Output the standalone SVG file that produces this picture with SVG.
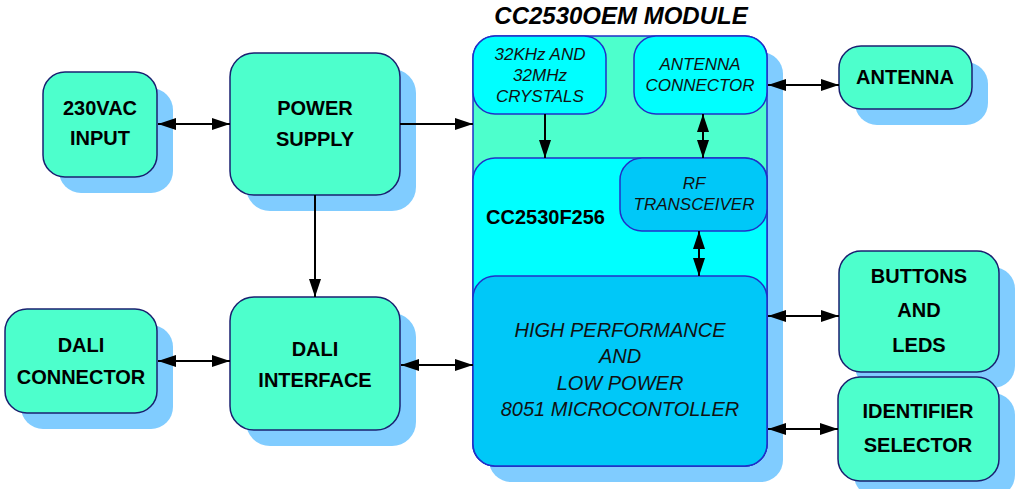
<svg xmlns="http://www.w3.org/2000/svg" width="1024" height="489" viewBox="0 0 1024 489">
<defs>
<style>
.sh{fill:#80ccff}
.gb{fill:#4dffcc;stroke:#1a2070;stroke-width:1.5}
.mod{fill:#4dffcc;stroke:#2030c8;stroke-width:1.5}
.cy{fill:#00ffff;stroke:#2030c8;stroke-width:1.5}
.bl{fill:#00c8f8;stroke:#2030c8;stroke-width:1.5}
.tb{font-family:"Liberation Sans",Arial,sans-serif;font-weight:bold;font-size:20px;fill:#000;text-anchor:middle}
.ti{font-family:"Liberation Sans",Arial,sans-serif;font-style:italic;font-size:17px;fill:#111;text-anchor:middle}
.tm{font-family:"Liberation Sans",Arial,sans-serif;font-style:italic;font-size:20px;fill:#111;text-anchor:middle}
.ttl{font-family:"Liberation Sans",Arial,sans-serif;font-style:italic;font-weight:bold;font-size:24px;fill:#000;text-anchor:middle}
.c{stroke:#000;stroke-width:2;fill:none}
</style>
<marker id="ah" viewBox="0 0 18 12" refX="18" refY="6" markerWidth="18" markerHeight="12" markerUnits="userSpaceOnUse" orient="auto-start-reverse"><path d="M0,0 L18,6 L0,12 z" fill="#000"/></marker>
</defs>
<rect width="1024" height="489" fill="#fff"/>

<text class="ttl" x="621" y="24">CC2530OEM MODULE</text>

<g id="module">
<rect class="sh" x="489" y="52" width="294" height="430" rx="22"/>
<rect class="mod" x="473" y="36" width="294" height="430" rx="22"/>
</g>
<g id="cc2530f256">
<rect class="cy" x="473" y="158" width="294" height="308" rx="22"/>
<text class="tb" x="486" y="224" style="text-anchor:start">CC2530F256</text>
</g>
<g id="crystals">
<rect class="cy" x="473" y="36" width="133" height="78" rx="22"/>
<text class="ti" x="540" y="60">32KHz AND</text>
<text class="ti" x="540" y="81">32MHz</text>
<text class="ti" x="540" y="102">CRYSTALS</text>
</g>
<g id="antenna-connector">
<rect class="cy" x="634" y="36" width="133" height="78" rx="22"/>
<text class="ti" x="700" y="70">ANTENNA</text>
<text class="ti" x="700" y="91">CONNECTOR</text>
</g>
<g id="rf">
<rect class="bl" x="620" y="158" width="147" height="73" rx="22"/>
<text class="ti" x="694" y="189">RF</text>
<text class="ti" x="694" y="210">TRANSCEIVER</text>
</g>
<g id="mcu">
<rect class="bl" x="473" y="276" width="294" height="190" rx="22"/>
<text class="tm" x="620" y="337">HIGH PERFORMANCE</text>
<text class="tm" x="620" y="363">AND</text>
<text class="tm" x="620" y="390">LOW POWER</text>
<text class="tm" x="620" y="416">8051 MICROCONTOLLER</text>
</g>

<g id="input230">
<rect class="sh" x="59" y="88" width="114" height="105" rx="22"/>
<rect class="gb" x="43" y="72" width="114" height="105" rx="22"/>
<text class="tb" x="100" y="115">230VAC</text>
<text class="tb" x="100" y="145">INPUT</text>
</g>
<g id="power-supply">
<rect class="sh" x="246" y="69" width="170" height="142" rx="24"/>
<rect class="gb" x="230" y="53" width="170" height="142" rx="24"/>
<text class="tb" x="315" y="115">POWER</text>
<text class="tb" x="315" y="146">SUPPLY</text>
</g>
<g id="dali-connector">
<rect class="sh" x="21" y="325" width="152" height="104" rx="22"/>
<rect class="gb" x="5" y="309" width="152" height="104" rx="22"/>
<text class="tb" x="81" y="352">DALI</text>
<text class="tb" x="81" y="384">CONNECTOR</text>
</g>
<g id="dali-interface">
<rect class="sh" x="246" y="313" width="170" height="133" rx="24"/>
<rect class="gb" x="230" y="297" width="170" height="133" rx="24"/>
<text class="tb" x="315" y="356">DALI</text>
<text class="tb" x="315" y="387">INTERFACE</text>
</g>
<g id="antenna">
<rect class="sh" x="855" y="62" width="133" height="63" rx="22"/>
<rect class="gb" x="839" y="46" width="133" height="63" rx="22"/>
<text class="tb" x="905" y="84">ANTENNA</text>
</g>
<g id="buttons-leds">
<rect class="sh" x="855" y="267" width="160" height="121" rx="22"/>
<rect class="gb" x="839" y="251" width="160" height="121" rx="22"/>
<text class="tb" x="919" y="283">BUTTONS</text>
<text class="tb" x="919" y="317">AND</text>
<text class="tb" x="919" y="352">LEDS</text>
</g>
<g id="identifier-selector">
<rect class="sh" x="854" y="393" width="161" height="104" rx="22"/>
<rect class="gb" x="838" y="377" width="161" height="104" rx="22"/>
<text class="tb" x="918" y="418">IDENTIFIER</text>
<text class="tb" x="918" y="452">SELECTOR</text>
</g>

<g id="connectors">
<line class="c" x1="158" y1="124" x2="230" y2="124" marker-start="url(#ah)" marker-end="url(#ah)"/>
<line class="c" x1="400" y1="124" x2="473" y2="124" marker-end="url(#ah)"/>
<line class="c" x1="315" y1="195" x2="315" y2="297" marker-end="url(#ah)"/>
<line class="c" x1="158" y1="361" x2="230" y2="361" marker-start="url(#ah)" marker-end="url(#ah)"/>
<line class="c" x1="401" y1="365" x2="473" y2="365" marker-start="url(#ah)" marker-end="url(#ah)"/>
<line class="c" x1="545" y1="114" x2="545" y2="158" marker-end="url(#ah)"/>
<line class="c" x1="703" y1="114" x2="703" y2="158" marker-start="url(#ah)" marker-end="url(#ah)"/>
<line class="c" x1="699" y1="231" x2="699" y2="276" marker-start="url(#ah)" marker-end="url(#ah)"/>
<line class="c" x1="768" y1="85" x2="839" y2="85" marker-start="url(#ah)" marker-end="url(#ah)"/>
<line class="c" x1="768" y1="316" x2="839" y2="316" marker-start="url(#ah)" marker-end="url(#ah)"/>
<line class="c" x1="768" y1="429" x2="838" y2="429" marker-start="url(#ah)" marker-end="url(#ah)"/>
</g>
</svg>
